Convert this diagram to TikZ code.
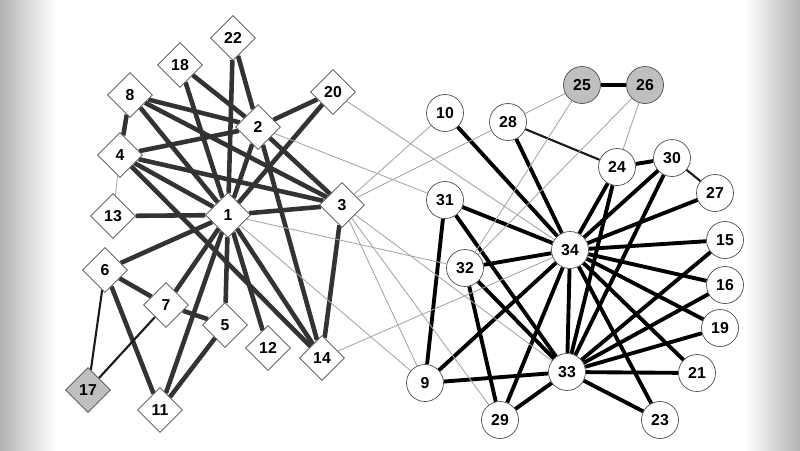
\documentclass[tikz,border=0pt]{standalone}
\usepackage{fontspec}
\setmainfont{Liberation Sans}
\usetikzlibrary{shapes.geometric,backgrounds}
\begin{document}
\begin{tikzpicture}[x=0.02cm,y=-0.02cm,
 dia/.style={diamond,draw=black!70,fill=white,inner sep=0pt,minimum size=0.9cm,font=\bfseries\small},
 cir/.style={circle,draw=black!70,fill=white,inner sep=0pt,minimum size=0.74cm,font=\bfseries\small},
 gr/.style={fill=black!25},
 tk/.style={line width=2.6pt,black!80},
 tkr/.style={line width=2.2pt,black},
 md/.style={line width=1.2pt,black!90},
 tn/.style={line width=0.5pt,black!35}]
\useasboundingbox (0,0) rectangle (800,450);
\shade[left color=black!30,right color=white] (0,0) rectangle (55,450);
\shade[left color=white,right color=black!30] (745,0) rectangle (800,450);
\node[dia] (n22) at (233,38) {22};
\node[dia] (n18) at (180,65) {18};
\node[dia] (n8) at (130,95) {8};
\node[dia] (n20) at (333,92) {20};
\node[dia] (n2) at (258,127) {2};
\node[dia] (n4) at (120,155) {4};
\node[dia] (n13) at (113,216) {13};
\node[dia] (n1) at (228,215) {1};
\node[dia] (n3) at (342,205) {3};
\node[dia] (n6) at (105,270) {6};
\node[dia] (n7) at (166,305) {7};
\node[dia] (n5) at (225,325) {5};
\node[dia] (n12) at (268,348) {12};
\node[dia] (n14) at (322,358) {14};
\node[dia,gr] (n17) at (88,390) {17};
\node[dia] (n11) at (160,410) {11};
\node[cir] (n10) at (445,113) {10};
\node[cir] (n28) at (508,122) {28};
\node[cir,gr] (n25) at (582,85) {25};
\node[cir,gr] (n26) at (645,85) {26};
\node[cir] (n24) at (617,167) {24};
\node[cir] (n30) at (672,158) {30};
\node[cir] (n27) at (715,193) {27};
\node[cir] (n31) at (445,200) {31};
\node[cir] (n34) at (570,250) {34};
\node[cir] (n15) at (725,240) {15};
\node[cir] (n32) at (465,268) {32};
\node[cir] (n16) at (725,285) {16};
\node[cir] (n19) at (720,328) {19};
\node[cir] (n9) at (425,383) {9};
\node[cir] (n33) at (567,372) {33};
\node[cir] (n21) at (697,373) {21};
\node[cir] (n29) at (500,420) {29};
\node[cir] (n23) at (660,420) {23};
\begin{scope}[on background layer]
\foreach \a/\b in {1/2,1/3,1/4,1/5,1/6,1/7,1/8,1/11,1/12,1/13,1/14,1/18,1/20,1/22,
 2/3,2/4,2/8,2/14,2/18,2/20,2/22,3/4,3/8,3/14,4/8,4/14,5/7,5/11,6/7,6/11}
 \draw[tk] (n\a) -- (n\b);
\foreach \a/\b in {9/31,9/33,9/34,10/34,15/33,15/34,16/33,16/34,19/33,19/34,21/33,21/34,23/33,23/34,
 24/30,24/33,24/34,25/26,28/34,29/34,29/33,30/33,30/34,31/33,31/34,32/33,32/34,33/34,27/34,29/32}
 \draw[tkr] (n\a) -- (n\b);
\foreach \a/\b in {24/28,27/30,7/17,6/17}
 \draw[md] (n\a) -- (n\b);
\foreach \a/\b in {1/9,1/32,3/9,3/10,3/28,3/29,3/33,2/31,14/34,20/34,25/28,25/32,26/32,24/26,4/13}
 \draw[tn] (n\a) -- (n\b);
\end{scope}
\end{tikzpicture}
\end{document}
